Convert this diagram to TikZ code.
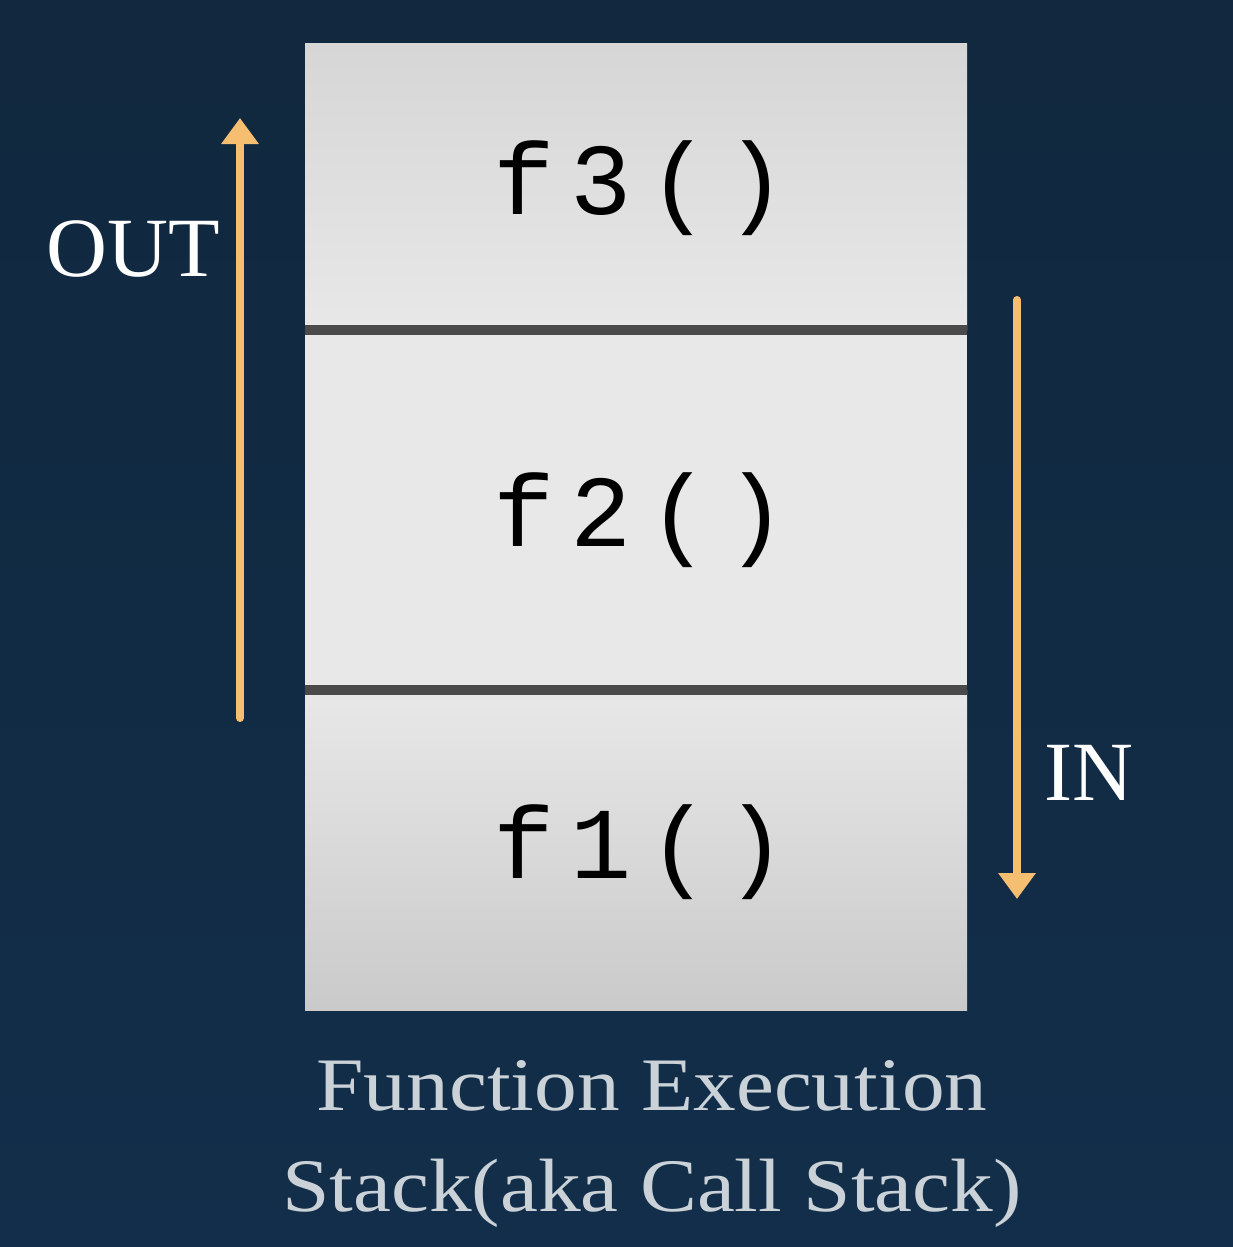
\documentclass[tikz,border=0pt]{standalone}
\usepackage{fontspec}
\setmainfont{Liberation Serif}
\newfontfamily\codefont[LetterSpace=16]{Liberation Mono}
\newfontfamily\capfont[FakeStretch=1.13]{Liberation Serif}
\usetikzlibrary{arrows.meta}
\definecolor{bgtop}{RGB}{17,40,62}
\definecolor{bgbot}{RGB}{18,46,74}
\definecolor{cellfill}{RGB}{232,232,232}
\definecolor{celltop}{RGB}{214,214,214}
\definecolor{cellmid}{RGB}{226,226,226}
\definecolor{cellbot}{RGB}{202,202,202}
\definecolor{divider}{RGB}{74,74,74}
\definecolor{arrowc}{RGB}{246,190,112}
\definecolor{captionc}{RGB}{202,210,216}
\tikzset{
  cell/.style={draw=none, fill=cellfill, minimum width=662*0.02cm, inner sep=0pt, outer sep=0pt},
  code/.style={font=\codefont\fontsize{58}{64}\selectfont, text=black},
  dirlabel/.style={font=\fontsize{48}{52}\selectfont, text=white},
  caption/.style={font=\capfont\fontsize{43}{58}\selectfont, text=captionc, align=center},
  divline/.style={draw=divider, line width=10*0.02cm},
  flow/.style={draw=arrowc, line width=8*0.02cm, line cap=round, -{Triangle[width=36*0.02cm, length=26*0.02cm]}}
}
\begin{document}
\begin{tikzpicture}[x=0.02cm, y=-0.02cm]
\useasboundingbox (0,0) rectangle (1233,1247);
\shade[top color=bgtop, bottom color=bgbot] (0,0) rectangle (1233,1247);
% cells
\node[cell, minimum height=286*0.02cm, anchor=north west, top color=celltop, bottom color=cellfill] (c3) at (305,44) {};
\node[cell, minimum height=360*0.02cm, anchor=north west] (c2) at (305,330) {};
\node[cell, minimum height=320*0.02cm, anchor=north west, top color=cellfill, middle color=cellmid, bottom color=cellbot] (c1) at (305,690) {};
\draw[divline] (c3.south west) -- (c3.south east);
\draw[divline] (c2.south west) -- (c2.south east);
% texts
\node[code] (t3) at (640,188) {f3()};
\node[code] (t2) at (640,520) {f2()};
\node[code] (t1) at (640,852) {f1()};
% arrows
\coordinate (outA) at (240,718);
\coordinate (outB) at (240,118);
\coordinate (inA) at (1017,300);
\coordinate (inB) at (1017,899);
\draw[flow] (outA) -- (outB);
\draw[flow] (inA) -- (inB);
\node[dirlabel] (out) at (133,249) {OUT};
\node[dirlabel] (in) at (1089,773) {IN};
% caption
\node[caption] (cap) at (652,1144) {Function Execution\\Stack(aka Call Stack)};
\end{tikzpicture}
\end{document}
